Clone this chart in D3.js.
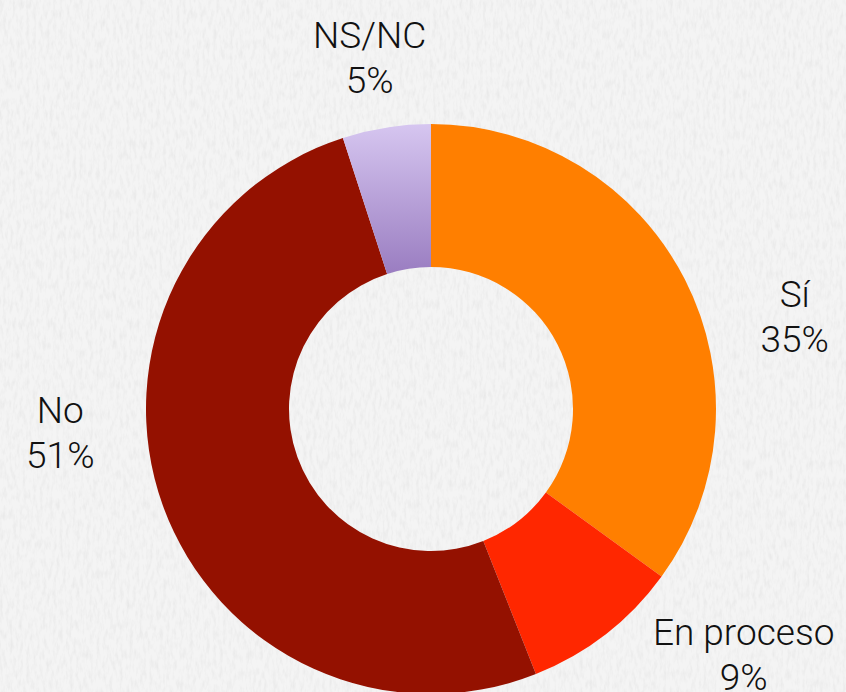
<!DOCTYPE html>
<html lang="es">
<head>
    <meta charset="UTF-8">
    <title>Donut</title>
    <script src="https://d3js.org/d3.v7.min.js"></script>
    <style>
        html, body { margin: 0; padding: 0; background: #f1f1f1; overflow: hidden; }
        svg { display: block; }
        .label { font-family: "Roboto", "Liberation Sans", sans-serif; font-weight: 300; font-size: 37px; fill: #111; text-anchor: middle; }
    </style>
</head>
<body>
    <svg id="chart"></svg>
    <script>
        // data
        const categories = ["Sí", "En proceso", "No", "NS/NC"];
        const values = [35, 9, 51, 5];
        const colors = ["#ff7f00", "#ff2700", "#941100", "url(#purpleGrad)"];
        // nudges from the arc label point, so the text sits like the original
        const labelNudge = [[43, 83], [92, -26], [-32, -86], [-5, 17]];

        const width = 846, height = 692;
        const cx = 431, cy = 409;
        const outerR = 285, innerR = 142, labelR = 360;

        const svg = d3.select("#chart").attr("width", width).attr("height", height);
        const defs = svg.append("defs");

        // paper texture
        const filt = defs.append("filter").attr("id", "paper").attr("x", 0).attr("y", 0).attr("width", "100%").attr("height", "100%");
        filt.append("feTurbulence").attr("type", "fractalNoise").attr("baseFrequency", "0.3 0.1").attr("numOctaves", 3).attr("seed", 4);
        filt.append("feColorMatrix").attr("type", "matrix")
          .attr("values", "0 0 0 0 0  0 0 0 0 0  0 0 0 0 0  0 0 0 -0.9 0.55");

        const grad = defs.append("linearGradient").attr("id", "purpleGrad")
          .attr("x1", 0).attr("y1", 0).attr("x2", 0).attr("y2", 1);
        grad.append("stop").attr("offset", "0%").attr("stop-color", "#d6c6f0");
        grad.append("stop").attr("offset", "100%").attr("stop-color", "#9a7dc1");

        svg.append("rect").attr("width", width).attr("height", height).attr("fill", "#f4f4f4");
        svg.append("rect").attr("width", width).attr("height", height).attr("filter", "url(#paper)").attr("opacity", 0.09);

        const pie = d3.pie().sort(null).value(d => d);
        const arcs = pie(values);
        const arc = d3.arc().innerRadius(innerR).outerRadius(outerR);
        const labelArc = d3.arc().innerRadius(labelR).outerRadius(labelR);

        const g = svg.append("g").attr("transform", `translate(${cx},${cy})`);

        g.selectAll("path.slice")
          .data(arcs)
          .enter().append("path")
          .attr("class", "slice")
          .attr("d", arc)
          .attr("fill", (d, i) => colors[i]);

        const labels = g.selectAll("g.lbl")
          .data(arcs)
          .enter().append("g")
          .attr("class", "lbl")
          .attr("transform", (d, i) => {
            const [x, y] = labelArc.centroid(d);
            return `translate(${x + labelNudge[i][0]},${y + labelNudge[i][1]})`;
          });

        labels.append("text").attr("class", "label").attr("y", -22).text((d, i) => categories[i]);
        labels.append("text").attr("class", "label").attr("y", 23).text(d => d.data + "%");
    </script>
</body>
</html>
